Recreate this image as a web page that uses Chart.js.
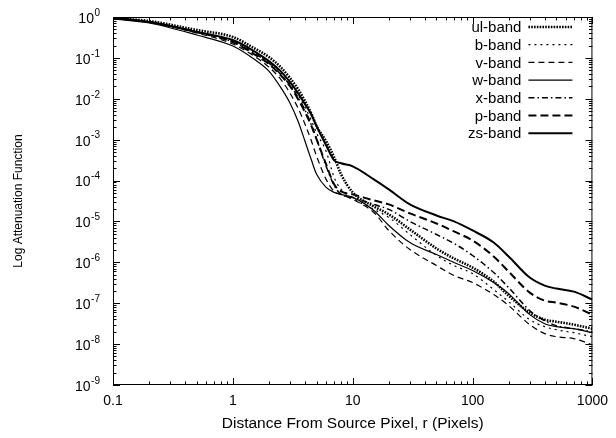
<!DOCTYPE html>
<html>
<head>
<meta charset="utf-8">
<script src="https://cdn.jsdelivr.net/npm/chart.js@4/dist/chart.umd.min.js"></script>
<style>
  html, body { margin: 0; padding: 0; background: #fff; }
  #wrap { position: relative; width: 616px; height: 438px; }
</style>
</head>
<body>
<div id="wrap"><canvas id="attenuationChart"></canvas></div>
<script>
// distance from source pixel, r (pixels)
const radius = [0.1, 0.2, 0.5, 1, 1.5, 2, 2.5, 3, 3.5, 4, 4.5, 5, 6, 7, 8, 10, 15, 20, 30, 50, 70, 100, 150, 200, 300, 400, 500, 700, 1000];

// attenuation per band
const ulBand = [0.945, 0.798, 0.48, 0.324, 0.174, 0.105, 0.0596, 0.032, 0.0172, 0.00873, 0.00444, 0.00213, 0.000914, 0.000371, 0.000142, 5.14e-5, 2.33e-5, 1.49e-5, 6.37e-6, 2.18e-6, 1.24e-6, 7.46e-7, 3.38e-7, 1.53e-7, 5.88e-8, 3.96e-8, 3.54e-8, 2.99e-8, 2.38e-8];
const bBand = [0.945, 0.754, 0.429, 0.258, 0.139, 0.0789, 0.0449, 0.0241, 0.0123, 0.00622, 0.00299, 0.00144, 0.00052, 0.00012, 6.08e-5, 3.66e-5, 1.97e-5, 1.25e-5, 4.8e-6, 1.47e-6, 8.35e-7, 5.31e-7, 2.15e-7, 1.09e-7, 3.96e-8, 2.67e-8, 2.25e-8, 1.9e-8, 1.52e-8];
const vBand = [0.945, 0.754, 0.405, 0.218, 0.111, 0.0596, 0.0302, 0.0137, 0.00589, 0.00238, 0.000966, 0.000392, 0.000107, 5.43e-5, 4.59e-5, 3.46e-5, 1.66e-5, 6.01e-6, 2.06e-6, 8.35e-7, 4.75e-7, 3.2e-7, 1.63e-7, 8.73e-8, 2.99e-8, 1.8e-8, 1.52e-8, 1.36e-8, 9.67e-9];
const wBand = [0.893, 0.713, 0.362, 0.195, 0.0935, 0.0475, 0.0192, 0.0078, 0.00282, 0.000914, 0.000331, 0.000142, 6.81e-5, 5.14e-5, 4.59e-5, 3.87e-5, 1.86e-5, 7.98e-6, 3.05e-6, 1.55e-6, 9.89e-7, 6.3e-7, 3.2e-7, 1.72e-7, 5.26e-8, 3.16e-8, 2.67e-8, 2.38e-8, 1.9e-8];
const xBand = [0.945, 0.754, 0.429, 0.244, 0.131, 0.0746, 0.0401, 0.0215, 0.0109, 0.00526, 0.00238, 0.00102, 0.000223, 7.63e-5, 4.59e-5, 3.87e-5, 2.61e-5, 1.97e-5, 1.0e-5, 4.8e-6, 2.89e-6, 1.47e-6, 5.62e-7, 2.41e-7, 6.59e-8, 3.75e-8, 2.83e-8, 2.38e-8, 2.01e-8];
const pBand = [0.945, 0.754, 0.429, 0.244, 0.124, 0.0705, 0.0379, 0.0204, 0.00977, 0.0047, 0.00225, 0.00102, 0.000249, 8.07e-5, 5.43e-5, 4.59e-5, 3.27e-5, 2.61e-5, 1.57e-5, 8.93e-6, 5.69e-6, 3.42e-6, 1.39e-6, 5.95e-7, 1.82e-7, 1.16e-7, 1.03e-7, 8.26e-8, 5.26e-8];
const zsBand = [0.945, 0.754, 0.429, 0.273, 0.147, 0.0835, 0.0475, 0.0255, 0.0137, 0.00738, 0.0042, 0.00213, 0.00073, 0.000313, 0.000264, 0.000223, 0.000107, 6.08e-5, 2.61e-5, 1.4e-5, 1.0e-5, 6.01e-6, 3.05e-6, 1.39e-6, 4.24e-7, 2.7e-7, 2.28e-7, 1.92e-7, 1.23e-7];

const bandNames = ["ul-band", "b-band", "v-band", "w-band", "x-band", "p-band", "zs-band"];
const bandValues = [ulBand, bBand, vBand, wBand, xBand, pBand, zsBand];

// tick labels
const xTickValues = [0.1, 1, 10, 100, 1000];
const xTickLabels = ["0.1", "1", "10", "100", "1000"];
const yTickExponents = [0, -1, -2, -3, -4, -5, -6, -7, -8, -9];

// gnuplot-like line types, all black
const bandStyles = [
  { borderWidth: 2.6, borderDash: [1.6, 1.2] },
  { borderWidth: 1.2, borderDash: [2, 4] },
  { borderWidth: 1.2, borderDash: [6, 4] },
  { borderWidth: 1.2, borderDash: [] },
  { borderWidth: 1.5, borderDash: [6, 3, 1.5, 3] },
  { borderWidth: 2, borderDash: [8, 4] },
  { borderWidth: 2, borderDash: [] },
];

const FONT = "'Liberation Sans', Arial, Helvetica, sans-serif";
Chart.defaults.font.family = FONT;
Chart.defaults.color = "#000";

// inward ticks on all four sides plus the frame
const frameTicks = {
  id: "frameTicks",
  afterDatasetsDraw(chart) {
    const { ctx, chartArea: a, scales } = chart;
    const xs = scales.x;
    const ys = scales.y;
    ctx.save();
    ctx.strokeStyle = "#000";
    ctx.lineWidth = 1;
    ctx.setLineDash([]);
    ctx.strokeRect(a.left + 0.5, a.top + 0.5, a.right - a.left - 1, a.bottom - a.top - 1);

    ctx.beginPath();
    for (let d = 0.1; d <= 1000 * 1.0001; d *= 10) {
      for (let k = 1; k <= 9; k++) {
        const v = d * k;
        if (v > 1000 * 1.0001) break;
        const px = Math.round(xs.getPixelForValue(v)) + 0.5;
        const len = k === 1 ? 7 : 3.5;
        ctx.moveTo(px, a.bottom);
        ctx.lineTo(px, a.bottom - len);
        ctx.moveTo(px, a.top);
        ctx.lineTo(px, a.top + len);
      }
    }
    for (let e = -9; e <= 0; e++) {
      for (let k = 1; k <= 9; k++) {
        const v = k * Math.pow(10, e);
        if (v > 1.0001) break;
        const py = Math.round(ys.getPixelForValue(v)) + 0.5;
        const len = k === 1 ? 7 : 3.5;
        ctx.moveTo(a.left, py);
        ctx.lineTo(a.left + len, py);
        ctx.moveTo(a.right, py);
        ctx.lineTo(a.right - len, py);
      }
    }
    ctx.stroke();

    // y tick labels as 10 with a raised exponent
    ctx.fillStyle = "#000";
    ctx.textBaseline = "middle";
    ctx.textAlign = "left";
    yTickExponents.forEach((e) => {
      const py = ys.getPixelForValue(Math.pow(10, e));
      const expText = String(e);
      ctx.font = "10px " + FONT;
      const ew = ctx.measureText(expText).width;
      ctx.font = "14px " + FONT;
      const bw = ctx.measureText("10").width;
      const right = a.left - 13;
      ctx.fillText("10", right - ew - bw - 0.5, py + 2);
      ctx.font = "10px " + FONT;
      ctx.fillText(expText, right - ew, py - 4);
    });
    ctx.restore();
  },
};

// legend in the top right: text then line sample
const bandLegend = {
  id: "bandLegend",
  afterDraw(chart) {
    const { ctx, chartArea: a } = chart;
    const textRight = a.right - 71;
    const lineStart = a.right - 64;
    const lineEnd = a.right - 20;
    let rowY = a.top + 10;
    ctx.save();
    ctx.font = "15px " + FONT;
    ctx.textAlign = "right";
    ctx.textBaseline = "middle";
    chart.data.datasets.forEach((ds) => {
      ctx.fillStyle = "#000";
      ctx.fillText(ds.label, textRight, rowY + 1);
      ctx.beginPath();
      ctx.setLineDash(ds.borderDash);
      ctx.lineWidth = ds.borderWidth;
      ctx.strokeStyle = ds.borderColor;
      ctx.moveTo(lineStart, rowY);
      ctx.lineTo(lineEnd, rowY);
      ctx.stroke();
      rowY += 17.7;
    });
    ctx.restore();
  },
};

const datasets = bandNames.map((name, i) => ({
  label: name,
  data: radius.map((r, j) => ({ x: r, y: bandValues[i][j] })),
  borderColor: "#000",
  borderWidth: bandStyles[i].borderWidth,
  borderDash: bandStyles[i].borderDash,
  pointRadius: 0,
  fill: false,
  cubicInterpolationMode: "monotone",
}));

new Chart(document.getElementById("attenuationChart"), {
  type: "line",
  data: { datasets: datasets },
  options: {
    responsive: true,
    maintainAspectRatio: false,
    animation: false,
    layout: { padding: { top: 17, right: 23, left: 0, bottom: 0 } },
    plugins: {
      legend: { display: false },
      tooltip: { enabled: false },
    },
    scales: {
      x: {
        type: "logarithmic",
        min: 0.1,
        max: 1000,
        grid: { display: false, drawTicks: false },
        border: { display: false },
        afterFit: (scale) => { scale.height = 53; },
        afterBuildTicks: (scale) => {
          scale.ticks = xTickValues.map((v) => ({ value: v }));
        },
        ticks: {
          autoSkip: false,
          maxRotation: 0,
          padding: 8,
          font: { size: 14 },
          callback: (value) => {
            const i = xTickValues.findIndex((t) => Math.abs(Math.log10(t) - Math.log10(value)) < 1e-6);
            return i >= 0 ? xTickLabels[i] : "";
          },
        },
        title: {
          display: true,
          text: "Distance From Source Pixel, r (Pixels)",
          font: { size: 15.5 },
          padding: { top: 0, bottom: 5 },
        },
      },
      y: {
        type: "logarithmic",
        min: 1e-9,
        max: 1,
        grid: { display: false, drawTicks: false },
        border: { display: false },
        ticks: { display: false },
        afterFit: (scale) => { scale.width = 113; },
        title: {
          display: true,
          text: "Log Attenuation Function",
          font: { size: 12 },
          padding: { top: 11, bottom: 0 },
        },
      },
    },
  },
  plugins: [frameTicks, bandLegend],
});
</script>
</body>
</html>
